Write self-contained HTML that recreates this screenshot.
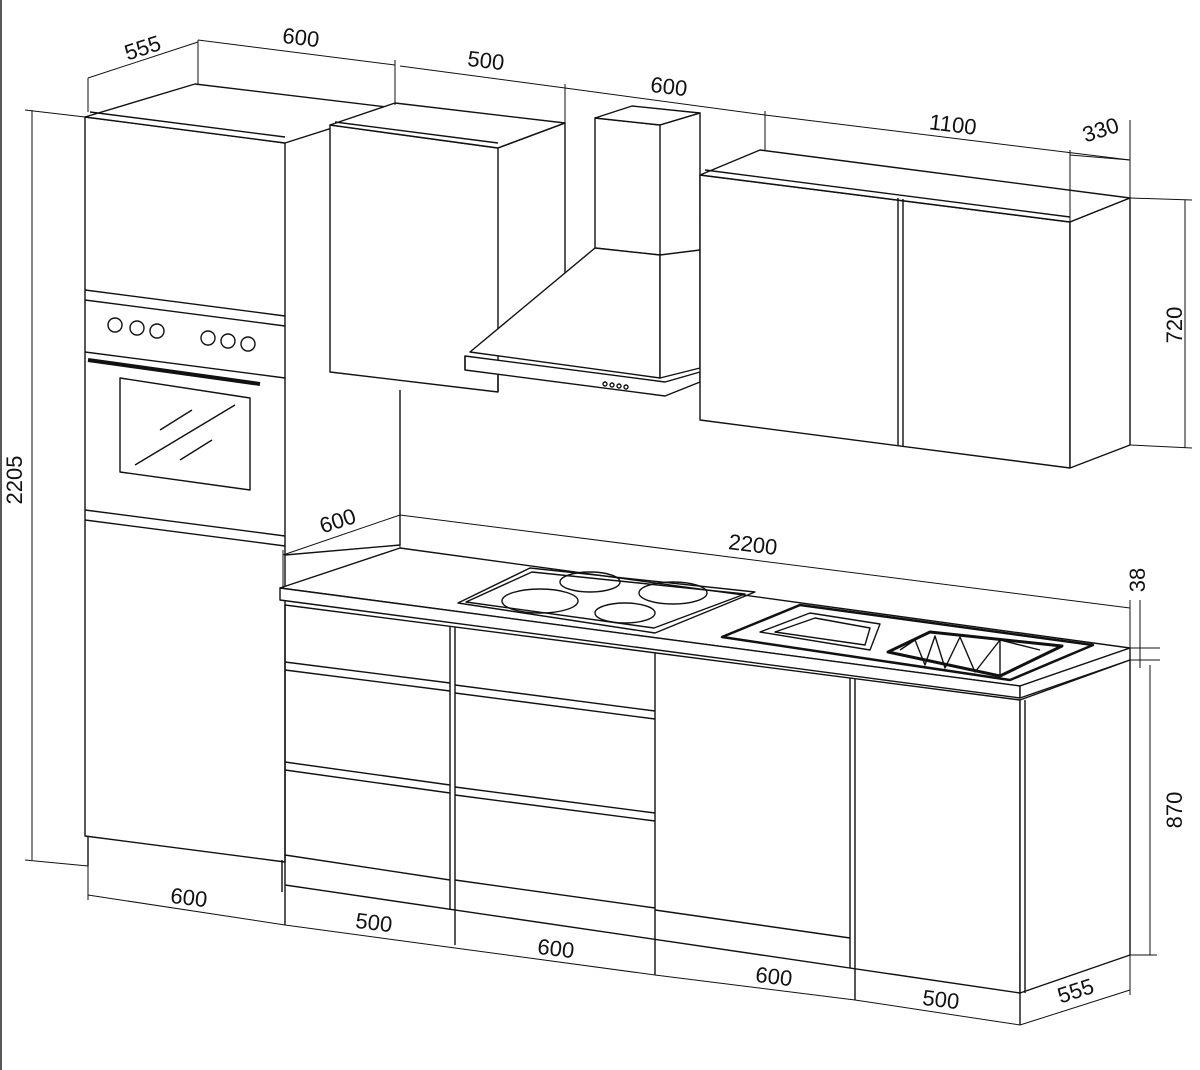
<!DOCTYPE html>
<html><head><meta charset="utf-8"><style>
html,body{margin:0;padding:0;background:#fff}
svg{display:block}
text{font-family:"Liberation Sans",sans-serif;font-size:22px;fill:#111}
</style></head><body>
<svg width="1200" height="1070" viewBox="0 0 1200 1070" xmlns="http://www.w3.org/2000/svg">
<rect x="0" y="0" width="1200" height="1070" fill="#fff"/>
<g fill="none" stroke="#111" stroke-width="1.4" stroke-linejoin="round">
<!-- left border -->
<line x1="1" y1="0" x2="1" y2="1070"/>
<!-- Tall cabinet -->
<polygon points="85,117 285,143 285,862 85,836"/>
<polygon points="85,117 195,84 395,108 285,143" fill="#fff"/>
<line x1="90" y1="112" x2="285" y2="137"/>
<line x1="85" y1="290" x2="285" y2="316"/>
<line x1="85" y1="300" x2="285" y2="326"/>
<line x1="85" y1="352" x2="285" y2="378"/>
<line x1="85" y1="510" x2="285" y2="536"/>
<line x1="85" y1="520" x2="285" y2="546"/>
<line x1="88" y1="360" x2="260" y2="384" stroke-width="4"/>
<polygon points="120,378 250,398 250,490 120,472"/>
<line x1="135" y1="465" x2="235" y2="405"/>
<line x1="160" y1="430" x2="192" y2="410"/>
<line x1="180" y1="460" x2="212" y2="440"/>
<circle cx="115" cy="325" r="7"/><circle cx="137" cy="328" r="7"/><circle cx="157" cy="331" r="7"/>
<circle cx="208" cy="338" r="7"/><circle cx="228" cy="341" r="7"/><circle cx="248" cy="344" r="7"/>
<line x1="88" y1="836" x2="88" y2="866"/><line x1="282" y1="860" x2="282" y2="892"/>
<line x1="400" y1="390" x2="400" y2="545"/>
<line x1="285" y1="555" x2="400" y2="545"/>
<!-- Upper cabinet 1 -->
<polygon points="330,125 498,148 498,392 330,372" fill="#fff"/>
<polygon points="330,125 395,103 565,123 498,148" fill="#fff"/>
<line x1="335" y1="122" x2="498" y2="143"/>
<line x1="565" y1="123" x2="565" y2="345"/>
<line x1="498" y1="148" x2="565" y2="123"/>
<!-- Hood -->
<polygon points="595,118 660,125 660,255 595,248" fill="#fff"/>
<polygon points="595,118 632,106 700,113 660,125" fill="#fff"/>
<polyline points="660,125 700,113 700,250"/>
<polygon points="595,248 470,352 660,378 660,255" fill="#fff"/>
<polygon points="660,255 700,250 700,368 660,378" fill="#fff"/>
<polygon points="465,356 665,382 700,372 700,382 665,396 465,370" fill="#fff"/>
<line x1="465" y1="356" x2="465" y2="370"/>
<line x1="498" y1="375" x2="498" y2="392"/>
<circle cx="605" cy="384" r="2"/><circle cx="612" cy="385" r="2"/><circle cx="619" cy="386" r="2"/><circle cx="626" cy="387" r="2"/>
<!-- Upper right cabinet -->
<polygon points="700,175 1070,222 1070,468 700,420" fill="#fff"/>
<polygon points="700,175 760,150 1130,198 1070,222" fill="#fff"/>
<polygon points="1070,222 1130,198 1130,445 1070,468" fill="#fff"/>
<line x1="705" y1="170" x2="1070" y2="217"/>
<line x1="898" y1="198" x2="898" y2="445"/>
<line x1="903" y1="199" x2="903" y2="446"/>
<!-- Worktop -->
<polygon points="280,588 400,548 1130,648 1020,686" fill="#fff"/>
<polygon points="280,588 1020,686 1020,698 280,600" fill="#fff"/>
<polygon points="1020,686 1130,648 1130,660 1020,698" fill="#fff"/>
<!-- Hob -->
<polygon points="458,603 530,568 755,592 655,633"/>
<polygon points="466,602 532,572 745,594 654,628"/>
<ellipse cx="590" cy="582" rx="30" ry="10"/>
<ellipse cx="540" cy="601" rx="38" ry="12"/>
<ellipse cx="673" cy="593" rx="34" ry="11"/>
<ellipse cx="625" cy="613" rx="30" ry="10"/>
<!-- Sink -->
<polygon points="722,637 800,605 1093,645 1010,680" stroke-width="2.5"/>
<polygon points="760,632 810,613 880,624 870,650"/>
<polygon points="775,632 815,618 870,628 865,645"/>
<polygon points="888,652 930,632 1062,646 1000,676" stroke-width="3"/>
<path d="M900,650 L915,640 L925,665 L935,636 L945,668 L960,637 L975,672 L1000,640 L1000,676 M1000,640 L1040,650"/>
<!-- Base cabinets -->
<polyline points="285,605 1020,700 1020,993 285,885 285,605"/>
<line x1="455" y1="627" x2="455" y2="910"/>
<line x1="450" y1="627" x2="450" y2="910"/>
<line x1="655" y1="653" x2="655" y2="939"/>
<line x1="850" y1="678" x2="850" y2="968"/>
<line x1="855" y1="679" x2="855" y2="969"/>
<line x1="285" y1="662" x2="450" y2="683"/><line x1="285" y1="670" x2="450" y2="691"/>
<line x1="285" y1="762" x2="450" y2="785"/><line x1="285" y1="770" x2="450" y2="793"/>
<line x1="455" y1="685" x2="655" y2="711"/><line x1="455" y1="693" x2="655" y2="719"/>
<line x1="455" y1="787" x2="655" y2="813"/><line x1="455" y1="795" x2="655" y2="821"/>
<line x1="655" y1="910" x2="850" y2="938"/>
<line x1="285" y1="855" x2="450" y2="880"/>
<line x1="455" y1="880" x2="655" y2="908"/>
<polygon points="1020,700 1130,660 1130,955 1020,993" fill="#fff"/>
<line x1="1025" y1="700" x2="1025" y2="993"/>
<line x1="455" y1="910" x2="455" y2="945"/><line x1="655" y1="939" x2="655" y2="975"/>
<line x1="855" y1="969" x2="855" y2="1000"/><line x1="1020" y1="993" x2="1020" y2="1025"/>
<line x1="285" y1="885" x2="285" y2="925"/>
<!-- Dimension lines -->
<g stroke-width="1">
<line x1="32" y1="110" x2="32" y2="860"/><line x1="25" y1="110" x2="85" y2="117"/><line x1="25" y1="860" x2="88" y2="866"/>
<line x1="1185" y1="200" x2="1185" y2="448"/><line x1="1130" y1="198" x2="1192" y2="200"/><line x1="1130" y1="445" x2="1192" y2="448"/>
<line x1="1150" y1="665" x2="1150" y2="955"/><line x1="1130" y1="955" x2="1157" y2="955"/>
<line x1="1140" y1="600" x2="1140" y2="668"/><line x1="1130" y1="648" x2="1160" y2="648"/><line x1="1130" y1="660" x2="1160" y2="660"/>
<line x1="88" y1="78" x2="198" y2="42"/><line x1="88" y1="78" x2="88" y2="112"/><line x1="198" y1="40" x2="198" y2="84"/>
<line x1="198" y1="40" x2="395" y2="65"/><line x1="395" y1="60" x2="395" y2="105"/>
<line x1="400" y1="66" x2="565" y2="88"/><line x1="565" y1="84" x2="565" y2="123"/>
<line x1="565" y1="88" x2="765" y2="115"/><line x1="765" y1="111" x2="765" y2="150"/>
<line x1="765" y1="115" x2="1130" y2="160"/><line x1="1130" y1="120" x2="1130" y2="198"/>
<line x1="1070" y1="155" x2="1130" y2="160"/><line x1="1070" y1="150" x2="1070" y2="222"/>
<line x1="283" y1="555" x2="400" y2="515"/><line x1="283" y1="550" x2="283" y2="588"/><line x1="400" y1="510" x2="400" y2="548"/>
<line x1="400" y1="515" x2="1130" y2="608"/><line x1="1130" y1="600" x2="1130" y2="648"/>
<line x1="88" y1="895" x2="285" y2="925"/><line x1="88" y1="866" x2="88" y2="900"/>
<line x1="285" y1="925" x2="455" y2="948"/>
<line x1="455" y1="948" x2="655" y2="975"/>
<line x1="655" y1="975" x2="855" y2="1000"/>
<line x1="855" y1="1000" x2="1020" y2="1025"/>
<line x1="1020" y1="1025" x2="1130" y2="990"/><line x1="1130" y1="955" x2="1130" y2="995"/>
</g>
</g>
<text transform="translate(22,480) rotate(-90)" text-anchor="middle">2205</text>
<text transform="translate(1182,325) rotate(-90)" text-anchor="middle">720</text>
<text transform="translate(1182,810) rotate(-90)" text-anchor="middle">870</text>
<text transform="translate(1145,580) rotate(-90)" text-anchor="middle" font-size="20">38</text>
<text transform="translate(145,55) rotate(-18)" text-anchor="middle" font-size="20">555</text>
<text transform="translate(300,45) rotate(7)" text-anchor="middle">600</text>
<text transform="translate(485,68) rotate(7)" text-anchor="middle">500</text>
<text transform="translate(668,94) rotate(7)" text-anchor="middle">600</text>
<text transform="translate(952,132) rotate(7)" text-anchor="middle">1100</text>
<text transform="translate(1103,137) rotate(-18)" text-anchor="middle" font-size="20">330</text>
<text transform="translate(340,528) rotate(-18)" text-anchor="middle" font-size="20">600</text>
<text transform="translate(752,552) rotate(7)" text-anchor="middle">2200</text>
<text transform="translate(188,905) rotate(7)" text-anchor="middle">600</text>
<text transform="translate(373,930) rotate(7)" text-anchor="middle">500</text>
<text transform="translate(555,956) rotate(7)" text-anchor="middle">600</text>
<text transform="translate(773,984) rotate(7)" text-anchor="middle">600</text>
<text transform="translate(940,1007) rotate(7)" text-anchor="middle">500</text>
<text transform="translate(1078,998) rotate(-18)" text-anchor="middle" font-size="20">555</text>
</svg>
</body></html>
